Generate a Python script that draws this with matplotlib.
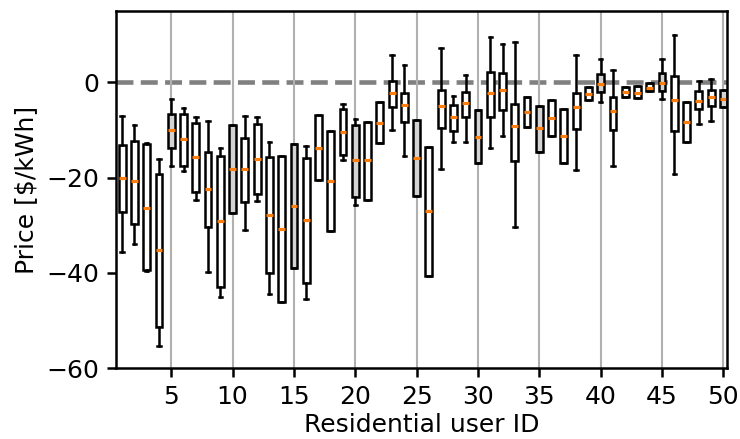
import matplotlib
matplotlib.use("Agg")
import matplotlib.pyplot as plt

users = list(range(1, 51))

whis_hi = [-7.1, -9.0, -12.7, -16.2, -3.5, -5.5, -7.2, -8.1, -13.9, -9.0,
           -7.0, -7.4, -12.5, -15.4, -13.0, -13.4, -6.8, -10.3, -4.6, -7.7,
           -8.3, -4.2, 5.6, 3.6, -8.0, -13.6, 7.1, -2.8, 1.6, -5.8,
           9.4, 8.1, 8.5, -3.2, -4.9, -3.8, -5.7, 5.7, -1.1, 4.8,
           2.6, -1.0, -0.9, -0.2, 4.8, 9.9, -4.2, 0.2, 0.7, -1.7]
q3 = [-13.2, -12.3, -13.0, -19.3, -6.6, -6.6, -8.6, -14.7, -15.5, -9.0,
      -11.6, -8.7, -15.7, -15.4, -13.0, -15.8, -6.8, -10.3, -5.7, -9.0,
      -8.3, -4.2, 0.2, -2.3, -8.0, -13.6, -1.6, -4.7, -2.1, -5.8,
      2.1, 2.0, -4.6, -3.2, -4.9, -3.8, -5.7, -2.2, -1.1, 1.8,
      -3.0, -1.0, -0.9, -0.2, 1.9, 1.4, -4.2, -1.9, -1.6, -1.7]
med = [-20.1, -20.8, -26.3, -35.2, -10.1, -12.0, -15.7, -22.4, -29.2, -18.2,
       -18.1, -16.1, -27.8, -30.7, -25.9, -28.9, -13.7, -20.7, -10.5, -16.4,
       -16.4, -8.5, -2.2, -4.7, -15.9, -27.1, -4.9, -7.4, -4.4, -11.4,
       -2.3, -1.7, -9.1, -6.2, -9.7, -7.5, -11.3, -5.2, -2.4, -0.3,
       -6.0, -2.1, -2.2, -1.2, -0.2, -3.7, -8.4, -3.9, -3.1, -3.5]
q1 = [-27.2, -29.8, -39.4, -51.4, -13.7, -17.6, -23.0, -30.3, -43.0, -27.4,
      -25.1, -23.5, -40.1, -46.0, -38.9, -42.2, -20.5, -31.1, -15.3, -24.1,
      -24.6, -12.7, -5.3, -8.4, -23.8, -40.6, -9.7, -10.3, -7.2, -16.9,
      -7.3, -5.8, -16.5, -9.3, -14.6, -11.2, -16.9, -9.9, -3.7, -2.1,
      -10.0, -3.2, -3.4, -1.8, -1.9, -10.2, -12.6, -5.7, -4.9, -5.3]
whis_lo = [-35.7, -34.0, -39.5, -55.3, -17.6, -18.6, -24.6, -39.8, -45.1, -27.4,
           -31.0, -25.0, -44.4, -46.0, -38.9, -45.4, -20.5, -31.1, -16.4, -25.8,
           -24.6, -12.7, -10.0, -15.4, -23.8, -40.6, -18.3, -12.5, -12.6, -16.9,
           -13.9, -11.3, -30.4, -9.3, -14.6, -11.2, -16.9, -18.5, -3.7, -4.1,
           -17.6, -3.2, -3.4, -1.8, -3.6, -19.2, -12.6, -8.8, -8.2, -5.3]

stats = []
for i in range(len(users)):
    stats.append(dict(whislo=whis_lo[i], q1=q1[i], med=med[i], q3=q3[i],
                      whishi=whis_hi[i], fliers=[]))

plt.rcParams["font.size"] = 12
plt.rcParams["axes.linewidth"] = 1.2
plt.rcParams["xtick.major.width"] = 1.2
plt.rcParams["ytick.major.width"] = 1.2
plt.rcParams["xtick.major.size"] = 4.5
plt.rcParams["ytick.major.size"] = 4.5

fig = plt.figure(figsize=(740 / 150, 439 / 150), dpi=150)
ax = fig.add_subplot(111)
fig.subplots_adjust(left=0.1568, right=0.9825, top=0.9757, bottom=0.1610)

ax.xaxis.grid(True, color="#b0b0b0", linewidth=1.0)
ax.set_axisbelow(True)

lw = 1.2
res = ax.bxp(stats, positions=users, widths=0.56, patch_artist=True,
             showfliers=False,
             boxprops=dict(linewidth=lw, edgecolor="black"),
             whiskerprops=dict(linewidth=lw, color="black"),
             capprops=dict(linewidth=lw, color="black"),
             medianprops=dict(linewidth=1.5, color="#ff7f0e"))
for u, box in zip(users, res["boxes"]):
    box.set_facecolor("#d3d3d3" if u % 5 == 0 else "white")

ax.axhline(0, color="gray", linestyle="--", linewidth=2.2, zorder=0.5)

ax.set_xlim(0.5, 50.3)
ax.set_ylim(-60, 15)
ax.set_xticks([5, 10, 15, 20, 25, 30, 35, 40, 45, 50])
ax.set_xticklabels(["5", "10", "15", "20", "25", "30", "35", "40", "45", "50"])
ax.set_yticks([-60, -40, -20, 0])
ax.set_xlabel("Residential user ID", labelpad=2)
ax.set_ylabel("Price [\\$/kWh]")

fig.savefig("out.png", dpi=150)
